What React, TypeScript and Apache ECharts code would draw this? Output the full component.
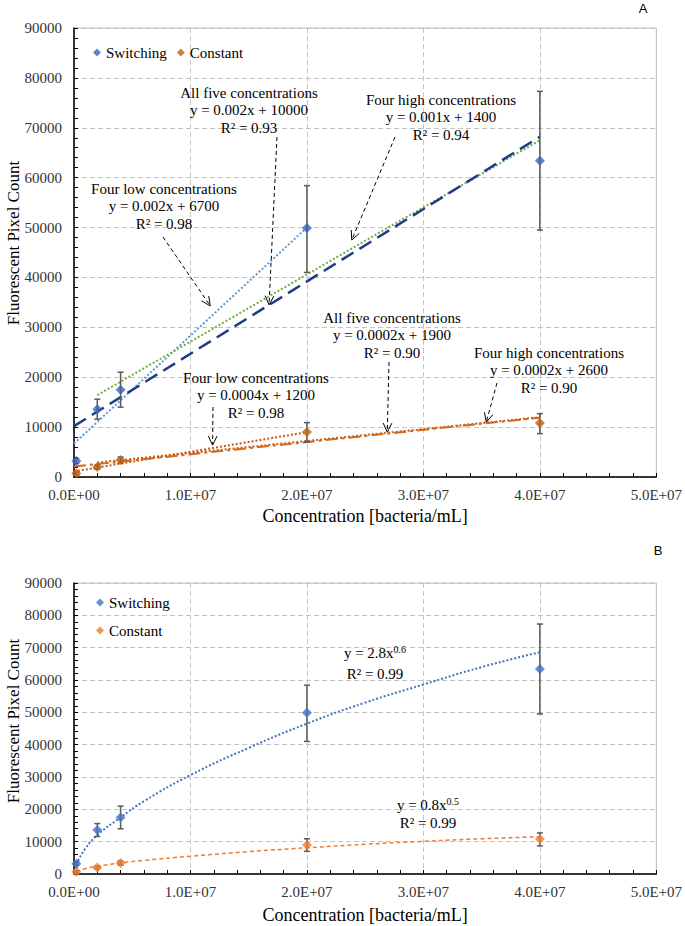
import React, { useEffect, useRef } from "react";
import * as echarts from "echarts";

const SERIF = "'Liberation Serif', 'Times New Roman', serif";
const SANS = "'Liberation Sans', Arial, sans-serif";

// ---------- data ----------
const concentrations = [2e5, 2e6, 4e6, 2e7, 4e7];
const switchingMean = [3200, 13600, 17500, 49900, 63400];
const switchingLow = [2700, 11600, 14000, 41000, 49500];
const switchingHigh = [3700, 15600, 21000, 58400, 77300];
const constantMean = [700, 2000, 3400, 9000, 10800];
const constantLow = [400, 1600, 2800, 7000, 8700];
const constantHigh = [1000, 2400, 4000, 10900, 12700];

// linear trend lines (panel A), endpoints
const swAllFiveX = [0, 4e7];
const swAllFiveY = [10200, 68200];
const swFourLowX = [0, 2e7];
const swFourLowY = [6700, 50000];
const swFourHighX = [2e6, 4e7];
const swFourHighY = [16400, 67500];
const coAllFiveX = [0, 4e7];
const coAllFiveY = [2100, 11900];
const coFourLowX = [0, 2e7];
const coFourLowY = [1100, 9000];
const coFourHighX = [2e6, 4e7];
const coFourHighY = [2900, 12000];

// power trend curves (panel B)
const powerX = [2e5, 1e6, 2e6, 4e6, 6e6, 1e7, 1.5e7, 2e7, 2.5e7, 3e7, 3.5e7, 4e7];
const swPowerY = [3000, 8000, 12000, 17500, 22500, 30600, 39000, 46500, 53000, 58600, 64000, 68600];
const coPowerY = [700, 1700, 2400, 3400, 4200, 5500, 6900, 8100, 9200, 10100, 10900, 11500];

// annotation arrow tips in data coordinates (panel A)
const arrowTipX = [1.675e7, 1.17e7, 2.385e7, 2.69e7, 3.54e7, 1.19e7];
const arrowTipY = [34500, 34300, 47500, 9000, 11000, 6400];

const zip = (xs: number[], ys: number[]) => xs.map((x, i) => [x, ys[i]]);
const errData = (lo: number[], hi: number[]) => concentrations.map((x, i) => [x, lo[i], hi[i]]);

function sci(v: number) {
  if (v === 0) return "0.0E+00";
  const e = Math.floor(Math.log10(v) + 1e-9);
  const m = v / Math.pow(10, e);
  return m.toFixed(1) + "E+" + (e < 10 ? "0" : "") + e;
}

const errorRender = (params: any, api: any) => {
  const x = api.value(0);
  const p1 = api.coord([x, api.value(1)]);
  const p2 = api.coord([x, api.value(2)]);
  const w = 3;
  const st = { stroke: "#595959", lineWidth: 1.5 };
  return {
    type: "group",
    children: [
      { type: "line", shape: { x1: p1[0], y1: p1[1], x2: p2[0], y2: p2[1] }, style: st },
      { type: "line", shape: { x1: p1[0] - w, y1: p1[1], x2: p1[0] + w, y2: p1[1] }, style: st },
      { type: "line", shape: { x1: p2[0] - w, y1: p2[1], x2: p2[0] + w, y2: p2[1] }, style: st },
    ],
  };
};

const xAxisFor = (gi: number, nameGap: number) => ({
  type: "value",
  gridIndex: gi,
  min: 0,
  max: 5e7,
  interval: 1e7,
  name: "Concentration [bacteria/mL]",
  nameLocation: "middle",
  nameGap,
  nameTextStyle: { fontFamily: SERIF, fontSize: 18, color: "#000" },
  axisLine: { onZero: false, lineStyle: { color: "#000", width: 1.5 } },
  axisTick: { show: true, inside: true, length: 4, lineStyle: { color: "#000" } },
  minorTick: { show: true, splitNumber: 5, length: 4, lineStyle: { color: "#000" } },
  splitLine: { show: true, lineStyle: { color: "#C4C4C4", type: [5, 3], width: 1 } },
  axisLabel: { formatter: sci, fontFamily: SERIF, fontSize: 15, color: "#333", margin: 10 },
});

const yAxisFor = (gi: number) => ({
  type: "value",
  gridIndex: gi,
  min: 0,
  max: 90000,
  interval: 10000,
  axisLine: { show: true, onZero: false, lineStyle: { color: "#000", width: 1.5 } },
  axisTick: { show: true, inside: true, length: 4, lineStyle: { color: "#000" } },
  minorTick: { show: true, splitNumber: 5, length: 4, lineStyle: { color: "#000" } },
  splitLine: { show: true, lineStyle: { color: "#C4C4C4", type: [5, 3], width: 1 } },
  axisLabel: { formatter: (v: number) => String(v), fontFamily: SERIF, fontSize: 15, color: "#333", margin: 12 },
});

const lineSeries = (gi: number, data: number[][], color: string, type: any, width: number, smooth = false) => ({
  type: "line",
  xAxisIndex: gi,
  yAxisIndex: gi,
  data,
  showSymbol: false,
  symbol: "none",
  smooth,
  z: 3,
  silent: true,
  lineStyle: { color, type, width },
});

const annotationsA = [
  { x: 249, y: 84, text: "All five concentrations\ny = 0.002x + 10000\nR² = 0.93" },
  { x: 164, y: 180, text: "Four low concentrations\ny = 0.002x + 6700\nR² = 0.98" },
  { x: 441, y: 91, text: "Four high concentrations\ny = 0.001x + 1400\nR² = 0.94" },
  { x: 392, y: 309, text: "All five concentrations\ny = 0.0002x + 1900\nR² = 0.90" },
  { x: 549, y: 344, text: "Four high concentrations\ny = 0.0002x + 2600\nR² = 0.90" },
  { x: 256, y: 369, text: "Four low concentrations\ny = 0.0004x + 1200\nR² = 0.98" },
];
const arrowStarts = [
  [277, 137],
  [163, 237],
  [395, 137],
  [389, 362],
  [497, 383],
  [213, 407],
];

export default function App() {
  const ref = useRef<HTMLDivElement>(null);
  useEffect(() => {
    if (!ref.current) return;
    const chart = echarts.init(ref.current, null, { renderer: "svg" });
    const option: any = {
      animation: false,
      backgroundColor: "#fff",
      grid: [
        { left: 74, top: 28, width: 585, height: 449, show: true, borderColor: "#BFBFBF", borderWidth: 1 },
        { left: 74, top: 583, width: 584, height: 291, show: true, borderColor: "#BFBFBF", borderWidth: 1 },
      ],
      xAxis: [xAxisFor(0, 30), xAxisFor(1, 32)],
      yAxis: [yAxisFor(0), yAxisFor(1)],
      legend: [
        {
          left: 93,
          top: 45,
          padding: 0,
          orient: "horizontal",
          itemWidth: 8,
          itemHeight: 8,
          itemGap: 10,
          selectedMode: false,
          data: [
            { name: "Switching", icon: "diamond" },
            { name: "Constant", icon: "diamond" },
          ],
          textStyle: { fontFamily: SERIF, fontSize: 15, color: "#000" },
        },
        {
          left: 96,
          top: 595,
          padding: 0,
          orient: "vertical",
          itemWidth: 8,
          itemHeight: 8,
          itemGap: 13,
          selectedMode: false,
          data: [
            { name: "Switching (B)", icon: "diamond" },
            { name: "Constant (B)", icon: "diamond" },
          ],
          formatter: (n: string) => n.replace(" (B)", ""),
          textStyle: { fontFamily: SERIF, fontSize: 15, color: "#000" },
        },
      ],
      series: [
        lineSeries(0, zip(swFourLowX, swFourLowY), "#5B9BD5", [2, 2], 2),
        lineSeries(0, zip(swFourHighX, swFourHighY), "#70AD47", [2, 2], 2),
        lineSeries(0, zip(swAllFiveX, swAllFiveY), "#1F3C88", [14, 7], 2.5),
        lineSeries(0, zip(coFourLowX, coFourLowY), "#C55A11", [2, 2], 2),
        lineSeries(0, zip(coFourHighX, coFourHighY), "#C55A11", [2, 2], 2),
        lineSeries(0, zip(coAllFiveX, coAllFiveY), "#D2691E", [12, 4, 3, 4], 2),
        { type: "custom", xAxisIndex: 0, yAxisIndex: 0, renderItem: errorRender, data: errData(switchingLow, switchingHigh), encode: { x: 0, y: [1, 2] }, z: 4, silent: true },
        { type: "custom", xAxisIndex: 0, yAxisIndex: 0, renderItem: errorRender, data: errData(constantLow, constantHigh), encode: { x: 0, y: [1, 2] }, z: 4, silent: true },
        { name: "Switching", type: "scatter", xAxisIndex: 0, yAxisIndex: 0, symbol: "diamond", symbolSize: 10, itemStyle: { color: "#3A64B8" }, data: zip(concentrations, switchingMean), z: 5 },
        { name: "Constant", type: "scatter", xAxisIndex: 0, yAxisIndex: 0, symbol: "diamond", symbolSize: 10, itemStyle: { color: "#C0620F" }, data: zip(concentrations, constantMean), z: 5 },
        lineSeries(1, zip(powerX, swPowerY), "#4472C4", [2, 2], 2, true),
        lineSeries(1, zip(powerX, coPowerY), "#ED7D31", [4, 3], 1.5, true),
        { type: "custom", xAxisIndex: 1, yAxisIndex: 1, renderItem: errorRender, data: errData(switchingLow, switchingHigh), encode: { x: 0, y: [1, 2] }, z: 4, silent: true },
        { type: "custom", xAxisIndex: 1, yAxisIndex: 1, renderItem: errorRender, data: errData(constantLow, constantHigh), encode: { x: 0, y: [1, 2] }, z: 4, silent: true },
        { name: "Switching (B)", type: "scatter", xAxisIndex: 1, yAxisIndex: 1, symbol: "diamond", symbolSize: 10, itemStyle: { color: "#4472C4" }, data: zip(concentrations, switchingMean), z: 5 },
        { name: "Constant (B)", type: "scatter", xAxisIndex: 1, yAxisIndex: 1, symbol: "diamond", symbolSize: 10, itemStyle: { color: "#ED7D31" }, data: zip(concentrations, constantMean), z: 5 },
      ],
    };
    chart.setOption(option);

    const g: any[] = [];
    const textStyle = (x: number, y: number, text: string, extra: any = {}) => ({
      type: "text",
      silent: true,
      z: 10,
      style: {
        x,
        y,
        text,
        fill: "#000",
        fontFamily: SERIF,
        fontSize: 15,
        lineHeight: 17.5,
        align: "center",
        verticalAlign: "top",
        ...extra,
      },
    });
    annotationsA.forEach((a) => g.push(textStyle(a.x, a.y, a.text)));

    arrowTipX.forEach((tx, i) => {
      const tip = chart.convertToPixel({ xAxisIndex: 0, yAxisIndex: 0 }, [tx, arrowTipY[i]]) as number[];
      const from = arrowStarts[i];
      const dx = tip[0] - from[0];
      const dy = tip[1] - from[1];
      const len = Math.hypot(dx, dy);
      const ux = dx / len;
      const uy = dy / len;
      const L = 10;
      const ang = 0.45;
      const back = (a: number) => [
        tip[0] - L * (ux * Math.cos(a) - uy * Math.sin(a)),
        tip[1] - L * (ux * Math.sin(a) + uy * Math.cos(a)),
      ];
      g.push({
        type: "line",
        silent: true,
        z: 10,
        shape: { x1: from[0], y1: from[1], x2: tip[0], y2: tip[1] },
        style: { stroke: "#000", lineWidth: 1, lineDash: [4, 3] },
      });
      g.push({
        type: "polyline",
        silent: true,
        z: 10,
        shape: { points: [back(ang), tip, back(-ang)] },
        style: { stroke: "#000", lineWidth: 1, fill: null },
      });
    });

    const sup = { s: { fontSize: 10, fontFamily: SERIF, fill: "#000", verticalAlign: "top", lineHeight: 10 } };
    g.push(textStyle(375, 644, "y = 2.8x{s|0.6}", { rich: sup }));
    g.push(textStyle(375, 665, "R² = 0.99"));
    g.push(textStyle(428, 796, "y = 0.8x{s|0.5}", { rich: sup }));
    g.push(textStyle(428, 814, "R² = 0.99"));

    [243, 721].forEach((cy) => {
      g.push({
        type: "text",
        silent: true,
        x: 13,
        y: cy,
        rotation: Math.PI / 2,
        style: { text: "Fluorescent Pixel Count", fontFamily: SERIF, fontSize: 17, fill: "#000", align: "center", verticalAlign: "middle" },
      });
    });
    g.push({ type: "text", silent: true, style: { x: 643, y: 8, text: "A", fontFamily: SANS, fontSize: 13, fill: "#000", align: "center", verticalAlign: "middle" } });
    g.push({ type: "text", silent: true, style: { x: 658, y: 550, text: "B", fontFamily: SANS, fontSize: 13, fill: "#000", align: "center", verticalAlign: "middle" } });

    chart.setOption({ graphic: g });
    return () => chart.dispose();
  }, []);
  return <div ref={ref} style={{ position: "fixed", left: 0, top: 0, width: 685, height: 926 }} />;
}
